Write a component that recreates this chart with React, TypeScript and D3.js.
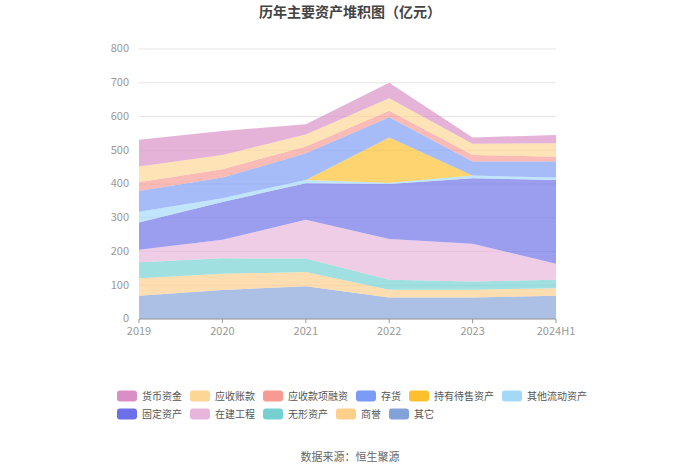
import React, { useRef, useEffect } from 'react';
import * as d3 from 'd3';

// categories
const years = ['2019', '2020', '2021', '2022', '2023', '2024H1'];

// series values (亿元), bottom to top of the stack
const qita = [69, 86, 97, 64, 64, 69];
const shangyu = [52, 48, 42, 23, 23, 22];
const wuxing = [47, 46, 40, 29, 24, 25];
const zaijian = [37, 55, 115, 121, 112, 48];
const guding = [81, 112, 108, 163, 194, 248];
const qitaLiudong = [32, 11, 10, 4, 8, 7];
const chiyouDaishou = [0, 0, 0, 134, 0, 0];
const cunhuo = [61, 61, 79, 60, 42, 48];
const yingshouRongzi = [26, 25, 20, 19, 19, 14];
const yingshouZhangkuan = [47, 42, 36, 37, 33, 40];
const huobi = [79, 71, 30, 46, 19, 24];

const yTicks = [0, 100, 200, 300, 400, 500, 600, 700, 800];

const stackSeries = [
  { name: '其它', values: qita, color: '#84a2da' },
  { name: '商誉', values: shangyu, color: '#fdcf8a' },
  { name: '无形资产', values: wuxing, color: '#75d1d1' },
  { name: '在建工程', values: zaijian, color: '#e8b6dc' },
  { name: '固定资产', values: guding, color: '#6c6fe8' },
  { name: '其他流动资产', values: qitaLiudong, color: '#a3d8f7' },
  { name: '持有待售资产', values: chiyouDaishou, color: '#fdbf2d' },
  { name: '存货', values: cunhuo, color: '#7b9cf5' },
  { name: '应收款项融资', values: yingshouRongzi, color: '#f89a92' },
  { name: '应收账款', values: yingshouZhangkuan, color: '#fdd594' },
  { name: '货币资金', values: huobi, color: '#d98ec5' },
];

// legend order as shown
const legendRow1 = ['货币资金', '应收账款', '应收款项融资', '存货', '持有待售资产', '其他流动资产'];
const legendRow2 = ['固定资产', '在建工程', '无形资产', '商誉', '其它'];

const W = 700, H = 474;
const margin = { top: 49, right: 144, bottom: 155, left: 139 };

const App = () => {
  const svgRef = useRef<SVGSVGElement>(null);

  useEffect(() => {
    const svg = d3.select(svgRef.current);
    svg.selectAll('*').remove();
    const font = '"Microsoft YaHei", "Noto Sans CJK SC", sans-serif';

    const width = W - margin.left - margin.right;
    const height = H - margin.top - margin.bottom;

    const x = d3.scalePoint().domain(years).range([0, width]);
    const y = d3.scaleLinear().domain([0, 800]).range([height, 0]);

    const table = years.map((yr, i) => {
      const row: any = { year: yr };
      stackSeries.forEach(s => { row[s.name] = s.values[i]; });
      return row;
    });
    const stacked = d3.stack().keys(stackSeries.map(s => s.name))(table);

    // title
    svg.append('text')
      .attr('x', W / 2).attr('y', 17)
      .attr('text-anchor', 'middle')
      .style('font-family', font).style('font-size', '14px').style('font-weight', 'bold')
      .attr('fill', '#444')
      .text('历年主要资产堆积图（亿元）');

    const g = svg.append('g').attr('transform', `translate(${margin.left},${margin.top})`);

    // grid
    g.selectAll('.grid').data(yTicks).enter().append('line')
      .attr('x1', 0).attr('x2', width)
      .attr('y1', d => y(d)).attr('y2', d => y(d))
      .attr('stroke', '#e6e6e6').attr('stroke-width', 1);

    g.selectAll('.ylab').data(yTicks).enter().append('text')
      .attr('x', -10).attr('y', d => y(d)).attr('dy', '0.3em')
      .attr('text-anchor', 'end')
      .style('font-family', font).style('font-size', '11px')
      .attr('fill', '#999')
      .text(d => d);

    const area = d3.area<any>()
      .x((d: any) => x(d.data.year) as number)
      .y0((d: any) => y(d[0]))
      .y1((d: any) => y(d[1]));

    g.selectAll('.layer').data(stacked).enter().append('path')
      .attr('d', area as any)
      .attr('fill', (d, i) => stackSeries[i].color)
      .attr('fill-opacity', 0.68)
      .attr('stroke', 'none');

    // x axis
    g.append('line')
      .attr('x1', 0).attr('x2', width)
      .attr('y1', height).attr('y2', height)
      .attr('stroke', '#999');
    g.selectAll('.xtick').data(years).enter().append('line')
      .attr('x1', d => x(d) as number).attr('x2', d => x(d) as number)
      .attr('y1', height).attr('y2', height + 4)
      .attr('stroke', '#999');
    g.selectAll('.xlab').data(years).enter().append('text')
      .attr('x', d => x(d) as number).attr('y', height + 16)
      .attr('text-anchor', 'middle')
      .style('font-family', font).style('font-size', '11px')
      .attr('fill', '#999')
      .text(d => d);

    // legend
    const colorOf = (n: string) => stackSeries.find(s => s.name === n)!.color;
    const drawRow = (names: string[], yPos: number) => {
      let cx = 117;
      names.forEach(n => {
        const item = svg.append('g').attr('transform', `translate(${cx},${yPos})`);
        item.append('rect')
          .attr('x', 0).attr('y', -5.5).attr('width', 20).attr('height', 11)
          .attr('rx', 3).attr('fill', colorOf(n));
        const t = item.append('text')
          .attr('x', 25).attr('y', 0).attr('dy', '0.35em')
          .style('font-family', font).style('font-size', '10px')
          .attr('fill', '#555')
          .text(n);
        const tw = (t.node() as SVGTextElement).getComputedTextLength();
        cx += 25 + tw + 8;
      });
    };
    drawRow(legendRow1, 396);
    drawRow(legendRow2, 414);

    // source
    svg.append('text')
      .attr('x', W / 2).attr('y', 461)
      .attr('text-anchor', 'middle')
      .style('font-family', font).style('font-size', '11px')
      .attr('fill', '#666')
      .text('数据来源：恒生聚源');
  }, []);

  return (
    <svg ref={svgRef} width={W} height={H}
      style={{ position: 'absolute', left: 0, top: 0, background: '#fff' }} />
  );
};

export default App;
